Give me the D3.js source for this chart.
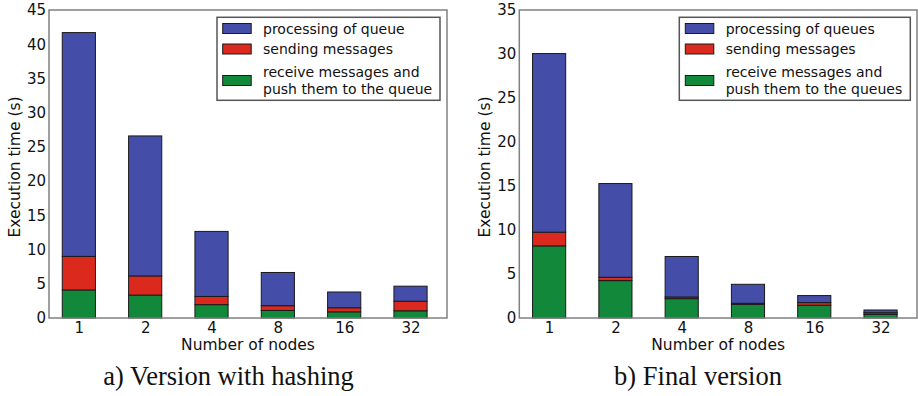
<!DOCTYPE html>
<html>
<head>
<meta charset="utf-8">
<script src="https://cdn.jsdelivr.net/npm/d3@7"></script>
<style>
  html, body { margin: 0; padding: 0; background: #fff; }
  svg { display: block; }
</style>
</head>
<body>
<svg id="chart" width="918" height="396"></svg>
<script>
// ---- data ----
const nodes = ["1", "2", "4", "8", "16", "32"];

// a) Version with hashing
const aReceive = [4.1, 3.35, 1.95, 1.1, 0.9, 1.05];
const aSending = [4.9, 2.8, 1.2, 0.7, 0.6, 1.4];
const aProcessing = [32.7, 20.45, 9.5, 4.85, 2.3, 2.2];
const aTicks = [0, 5, 10, 15, 20, 25, 30, 35, 40, 45];
const aLegend = ["processing of queue", "sending messages", ["receive messages and", "push them to the queue"]];

// b) Final version
const bReceive = [8.2, 4.25, 2.2, 1.55, 1.45, 0.42];
const bSending = [1.55, 0.38, 0.19, 0.12, 0.3, 0.18];
const bProcessing = [20.3, 10.65, 4.6, 2.16, 0.8, 0.31];
const bTicks = [0, 5, 10, 15, 20, 25, 30, 35];
const bLegend = ["processing of queues", "sending messages", ["receive messages and", "push them to the queues"]];

const seriesColors = { receive: "#12883a", sending: "#db2a1d", processing: "#444ea8" };

const svg = d3.select("#chart");
const sans = "DejaVu Sans, sans-serif";

function panel(opts) {
  const { left, right, top, bottom, yMax, ticks, receive, sending, processing,
          legend, legendBox, ylabelX, caption, captionX } = opts;
  const g = svg.append("g");
  const x = d3.scaleLinear().domain([0, nodes.length]).range([left, right]);
  const y = d3.scaleLinear().domain([0, yMax]).range([bottom, top]);

  const rows = nodes.map((n, i) => ({ n, i, receive: receive[i], sending: sending[i], processing: processing[i] }));
  const keys = ["receive", "sending", "processing"];
  const stacked = d3.stack().keys(keys)(rows);

  // bars
  stacked.forEach(layer => {
    g.append("g").selectAll("rect").data(layer).join("rect")
      .attr("x", d => x(d.data.i + 0.2))
      .attr("width", x(0.5) - x(0))
      .attr("y", d => y(d[1]))
      .attr("height", d => y(d[0]) - y(d[1]))
      .attr("fill", seriesColors[layer.key])
      .attr("stroke", "#1a1a1a")
      .attr("stroke-width", 1);
  });

  // frame
  g.append("rect")
    .attr("x", left).attr("y", top)
    .attr("width", right - left).attr("height", bottom - top)
    .attr("fill", "none").attr("stroke", "#808080").attr("stroke-width", 1.5);

  // y axis
  const yAxis = d3.axisLeft(y).tickValues(ticks).tickSize(0).tickPadding(3);
  const ya = g.append("g").attr("transform", `translate(${left},0)`).call(yAxis);
  ya.select(".domain").remove();
  ya.selectAll("text").attr("font-family", sans).attr("font-size", 15).attr("fill", "#111");

  // x axis
  const xAxis = d3.axisBottom(x)
    .tickValues(nodes.map((n, i) => i + 0.45))
    .tickFormat((d, i) => nodes[i])
    .tickSize(0).tickPadding(4);
  const xa = g.append("g").attr("transform", `translate(0,${bottom})`).call(xAxis);
  xa.select(".domain").remove();
  xa.selectAll("text").attr("font-family", sans).attr("font-size", 15).attr("fill", "#111");

  // axis labels
  g.append("text")
    .attr("x", (left + right) / 2).attr("y", 349.5)
    .attr("text-anchor", "middle")
    .attr("font-family", sans).attr("font-size", 15.5).attr("fill", "#111")
    .text("Number of nodes");
  g.append("text")
    .attr("transform", `translate(${ylabelX},${(top + bottom) / 2 + 3}) rotate(-90)`)
    .attr("text-anchor", "middle").attr("dominant-baseline", "central")
    .attr("font-family", sans).attr("font-size", 15.5).attr("fill", "#111")
    .text("Execution time (s)");

  // legend
  const lb = legendBox;
  g.append("rect")
    .attr("x", lb.x).attr("y", lb.y).attr("width", lb.w).attr("height", lb.h)
    .attr("fill", "#fff").attr("stroke", "#555").attr("stroke-width", 1.5);
  const legendRows = [
    { key: "processing", label: legend[0], cy: 28.5 },
    { key: "sending", label: legend[1], cy: 49 },
    { key: "receive", label: legend[2], cy: 80.5 }
  ];
  legendRows.forEach(r => {
    g.append("rect")
      .attr("x", lb.px).attr("y", r.cy - 5).attr("width", 28.5).attr("height", 10)
      .attr("fill", seriesColors[r.key]).attr("stroke", "#1a1a1a").attr("stroke-width", 1);
    const lines = Array.isArray(r.label) ? r.label : [r.label];
    lines.forEach((t, k) => {
      g.append("text")
        .attr("x", lb.tx)
        .attr("y", r.cy + (k - (lines.length - 1) / 2) * 16.5)
        .attr("dominant-baseline", "central")
        .attr("font-family", sans).attr("font-size", 14).attr("fill", "#111")
        .text(t);
    });
  });

  // caption
  g.append("text")
    .attr("x", captionX).attr("y", 384.5)
    .attr("text-anchor", "middle")
    .attr("font-family", "Liberation Serif, serif").attr("font-size", 26.5).attr("fill", "#111")
    .text(caption);
}

panel({
  left: 49, right: 447, top: 10, bottom: 318, yMax: 45, ticks: aTicks,
  receive: aReceive, sending: aSending, processing: aProcessing,
  legend: aLegend,
  legendBox: { x: 217, y: 17.3, w: 223, h: 83, px: 222.7, tx: 263 },
  ylabelX: 15, caption: "a) Version with hashing", captionX: 228.5
});

panel({
  left: 519.3, right: 917, top: 10, bottom: 318, yMax: 35, ticks: bTicks,
  receive: bReceive, sending: bSending, processing: bProcessing,
  legend: bLegend,
  legendBox: { x: 679.3, y: 17.3, w: 231, h: 83, px: 685.3, tx: 725.7 },
  ylabelX: 485, caption: "b) Final version", captionX: 698
});
</script>
</body>
</html>
